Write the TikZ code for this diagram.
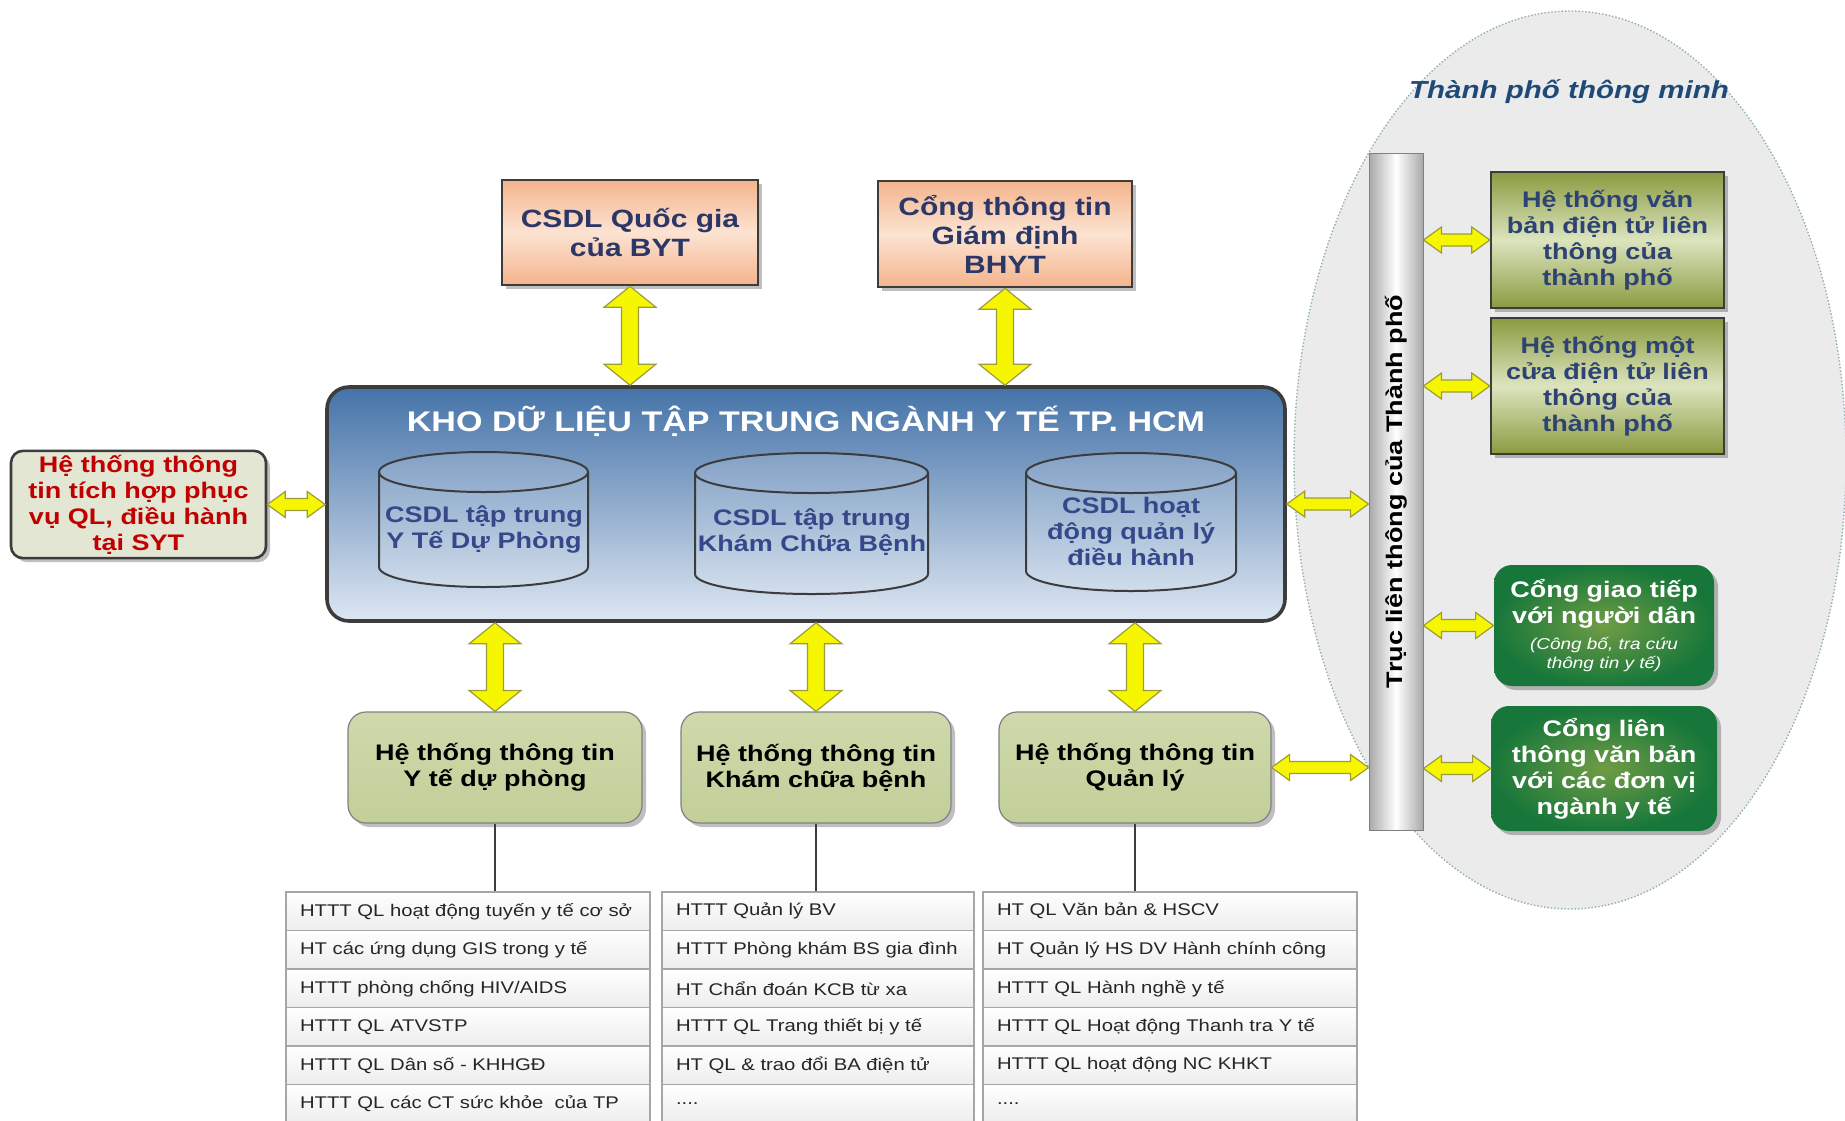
\documentclass[tikz,border=0pt]{standalone}
\usepackage{fontspec}
\setmainfont{Liberation Sans}[FakeStretch=1.2]
\usetikzlibrary{calc,shadows}
\definecolor{khotop}{HTML}{4472A8}
\definecolor{khobot}{HTML}{DDE7F2}
\definecolor{darkline}{HTML}{3C3C3C}
\definecolor{peachA}{HTML}{F4B48C}
\definecolor{peachB}{HTML}{FCE3D2}
\definecolor{navytxt}{HTML}{2B3767}
\definecolor{cyltxt}{HTML}{34488A}
\definecolor{sytfill}{HTML}{E3E6D3}
\definecolor{sytred}{HTML}{C00000}
\definecolor{oliveL}{HTML}{C2CF98}
\definecolor{oliveLt}{HTML}{CFD9AC}
\definecolor{oliveD}{HTML}{8A9B40}
\definecolor{oliveM}{HTML}{DCE4BE}
\definecolor{gdark}{HTML}{17773A}
\definecolor{glight}{HTML}{6F9C45}
\definecolor{ellfill}{HTML}{EBEBEB}
\definecolor{elldot}{HTML}{8FAFB0}
\definecolor{yel}{HTML}{F6F600}
\definecolor{yelline}{HTML}{9C9C3A}
\definecolor{rowline}{HTML}{A6A6A6}
\definecolor{rowbot}{HTML}{EDEDED}
\definecolor{rowtext}{HTML}{262626}
\definecolor{trucgray}{HTML}{A9A9A9}
\definecolor{titleblue}{HTML}{1F4A78}
\definecolor{r1txt}{HTML}{2E4374}
\tikzset{
  shadowed/.style={drop shadow={shadow xshift=2pt,shadow yshift=-2pt,opacity=0.25,fill=black}},
  bfbox/.style={align=center,inner sep=2pt,font=\fontsize{11.25pt}{13pt}\selectfont\bfseries},
  peach/.style={bfbox,draw=darkline,line width=1.3pt,top color=peachA,bottom color=peachA,middle color=peachB,
     text=navytxt,font=\fontsize{12.5pt}{14.5pt}\selectfont\bfseries,shadowed},
  khobox/.style={draw=darkline,line width=1.8pt,rounded corners=11pt,top color=khotop,bottom color=khobot},
  khotitle/.style={text=white,font=\fontsize{14.2pt}{16pt}\selectfont\bfseries},
  cyl/.style={draw=darkline,line width=1pt,fill=white,fill opacity=0.14},
  cylline/.style={draw=darkline,line width=1pt},
  cyltext/.style={bfbox,text=cyltxt},
  sytbox/.style={bfbox,draw=darkline,line width=1.3pt,rounded corners=6pt,fill=sytfill,text=sytred,shadowed},
  olivebox/.style={bfbox,draw=gray,line width=0.6pt,rounded corners=9pt,top color=oliveLt,bottom color=oliveL,text=black,shadowed},
  rolive/.style={bfbox,draw=darkline,line width=1.2pt,top color=oliveD,bottom color=oliveD,middle color=oliveM,text=r1txt,shadowed},
  gbox/.style={bfbox,rounded corners=9pt,inner color=glight,outer color=gdark,text=white,shadowed},
  trucbar/.style={draw=gray,line width=0.5pt,left color=trucgray,right color=trucgray,middle color=white,
     font=\fontsize{11.25pt}{13pt}\selectfont\bfseries},
  tabrow/.style={draw=rowline,line width=0.6pt,top color=white,bottom color=rowbot,minimum height=19.25pt,
     inner xsep=7pt,inner ysep=0pt,align=left,font=\fontsize{8.45pt}{10pt}\selectfont,text=rowtext},
  conn/.style={draw=darkline,line width=1.3pt},
  yarrow/.style={fill=yel,draw=yelline,line width=0.6pt,line join=miter},
  citytitle/.style={text=titleblue,font=\fontsize{12.3pt}{14pt}\selectfont\bfseries\itshape},
  ellstyle/.style={fill=ellfill,draw=elldot,densely dotted,line width=0.7pt}
}
\newcommand\varrow[2]{%
  \draw[yarrow] let \p1=(#1), \p2=(#2) in
   (\x1,\y1) -- (\x1+13pt,\y1-10.5pt) -- (\x1+4.25pt,\y1-10.5pt) -- (\x1+4.25pt,\y2+10.5pt)
   -- (\x1+13pt,\y2+10.5pt) -- (\x1,\y2) -- (\x1-13pt,\y2+10.5pt) -- (\x1-4.25pt,\y2+10.5pt)
   -- (\x1-4.25pt,\y1-10.5pt) -- (\x1-13pt,\y1-10.5pt) -- cycle;}
\newcommand\harrow[2]{%
  \draw[yarrow] let \p1=(#1), \p2=(#2) in
   (\x1,\y1) -- (\x1+9pt,\y1+6.5pt) -- (\x1+9pt,\y1+3pt) -- (\x2-9pt,\y1+3pt)
   -- (\x2-9pt,\y1+6.5pt) -- (\x2,\y1) -- (\x2-9pt,\y1-6.5pt) -- (\x2-9pt,\y1-3pt)
   -- (\x1+9pt,\y1-3pt) -- (\x1+9pt,\y1-6.5pt) -- cycle;}
\newcommand\dbcyl[4]{%
  \filldraw[cyl] (#1-#4,#2+20) -- (#1-#4,#3-20)
    arc[start angle=180,end angle=360,x radius={#4*0.5pt},y radius=10pt]
    -- (#1+#4,#2+20)
    arc[start angle=0,end angle=180,x radius={#4*0.5pt},y radius=10pt] -- cycle;
  \draw[cylline] (#1-#4,#2+20) arc[start angle=180,end angle=360,x radius={#4*0.5pt},y radius=10pt];}
\begin{document}
\begin{tikzpicture}[x=0.5pt,y=-0.5pt]
\useasboundingbox (0,0) rectangle (1845,1120);
\fill[white] (0,0) rectangle (1845,1120);

% smart city area
\draw[ellstyle] (1570,460) ellipse [x radius=138pt, y radius=224.5pt];
\node[citytitle] (city) at (1569,92) {Thành phố thông minh};

% top boxes
\node[peach,minimum width=128pt,minimum height=52.5pt] (qg) at (630,232.5) {CSDL Quốc gia\\của BYT};
\node[peach,minimum width=127pt,minimum height=53pt] (bhyt) at (1005,234) {Cổng thông tin\\Giám định\\BHYT};

% central warehouse
\node[khobox,minimum width=479pt,minimum height=117pt] (kho) at (806,504) {};
\node[khotitle] (khot) at (806,421) {KHO DỮ LIỆU TẬP TRUNG NGÀNH Y TẾ TP. HCM};
\dbcyl{483.5}{452}{587}{104.5}
\dbcyl{811.5}{453}{594}{116.5}
\dbcyl{1131}{453}{591}{105}
\node[cyltext] (c1) at (484,529) {CSDL tập trung\\Y Tế Dự Phòng};
\node[cyltext] (c2) at (812,532) {CSDL tập trung\\Khám Chữa Bệnh};
\node[cyltext] (c3) at (1131,531) {CSDL hoạt\\động quản lý\\điều hành};

% left box
\node[sytbox,minimum width=127.5pt,minimum height=52.5pt] (syt) at (138.5,504.5)
  {Hệ thống thông\\tin tích hợp phục\\vụ QL, điều hành\\tại SYT};

% bottom systems
\node[olivebox,minimum width=147pt,minimum height=55.5pt] (b1) at (495,767.5) {Hệ thống thông tin\\Y tế dự phòng};
\node[olivebox,minimum width=135pt,minimum height=55.5pt] (b2) at (816,767.5) {Hệ thống thông tin\\Khám chữa bệnh};
\node[olivebox,minimum width=136pt,minimum height=55.5pt] (b3) at (1135,767.5) {Hệ thống thông tin\\Quản lý};

% tables
\begin{scope}[every node/.append style={tabrow,text width=168pt}]
\node (t1r1) at (468,911.25) {HTTT QL hoạt động tuyến y tế cơ sở};
\node (t1r2) at (468,949.75) {HT các ứng dụng GIS trong y tế};
\node (t1r3) at (468,988.25) {HTTT phòng chống HIV/AIDS};
\node (t1r4) at (468,1026.75) {HTTT QL ATVSTP};
\node (t1r5) at (468,1065.25) {HTTT QL Dân số - KHHGĐ};
\node (t1r6) at (468,1103.75) {HTTT QL các CT sức khỏe\ \ của TP};
\end{scope}
\begin{scope}[every node/.append style={tabrow,text width=142pt}]
\node (t2r1) at (818,911.25) {HTTT Quản lý BV};
\node (t2r2) at (818,949.75) {HTTT Phòng khám BS gia đình};
\node (t2r3) at (818,988.25) {HT Chẩn đoán KCB từ xa};
\node (t2r4) at (818,1026.75) {HTTT QL Trang thiết bị y tế};
\node (t2r5) at (818,1065.25) {HT QL \& trao đổi BA điện tử};
\node (t2r6) at (818,1103.75) {....};
\end{scope}
\begin{scope}[every node/.append style={tabrow,text width=173pt}]
\node (t3r1) at (1170,911.25) {HT QL Văn bản \& HSCV};
\node (t3r2) at (1170,949.75) {HT Quản lý HS DV Hành chính công};
\node (t3r3) at (1170,988.25) {HTTT QL Hành nghề y tế};
\node (t3r4) at (1170,1026.75) {HTTT QL Hoạt động Thanh tra Y tế};
\node (t3r5) at (1170,1065.25) {HTTT QL hoạt động NC KHKT};
\node (t3r6) at (1170,1103.75) {....};
\end{scope}

\draw[conn] (b1.south) -- (b1.south |- t1r1.north);
\draw[conn] (b2.south) -- (b2.south |- t2r1.north);
\draw[conn] (b3.south) -- (b3.south |- t3r1.north);

% city axis
\node[trucbar,minimum width=27pt,minimum height=338.5pt] (truc) at (1396,491.5) {\rotatebox{90}{Trục liên thông của Thành phố}};

% city systems
\node[rolive,minimum width=116.5pt,minimum height=68pt] (r1) at (1607.5,240) {Hệ thống văn\\bản điện tử liên\\thông của\\thành phố};
\node[rolive,minimum width=116.5pt,minimum height=68pt] (r2) at (1607.5,386) {Hệ thống một\\cửa điện tử liên\\thông của\\thành phố};
\node[gbox,minimum width=110pt,minimum height=60.5pt] (g1) at (1604,625.5)
  {Cổng giao tiếp\\với người dân\\{\fontsize{7.9pt}{9pt}\selectfont\mdseries\itshape (Công bố, tra cứu}\\[-3.5pt]{\fontsize{7.9pt}{9pt}\selectfont\mdseries\itshape thông tin y tế)}};
\node[gbox,minimum width=113pt,minimum height=62.5pt] (g2) at (1604,768.5) {Cổng liên\\thông văn bản\\với các đơn vị\\ngành y tế};

% yellow connectors
\varrow{qg.south}{qg.south |- kho.north}
\varrow{bhyt.south}{bhyt.south |- kho.north}
\varrow{b1.north |- kho.south}{b1.north}
\varrow{b2.north |- kho.south}{b2.north}
\varrow{b3.north |- kho.south}{b3.north}
\harrow{syt.east}{kho.west |- syt.east}
\harrow{kho.east}{truc.west |- kho.east}
\harrow{b3.east}{truc.west |- b3.east}
\harrow{truc.east |- r1.west}{r1.west}
\harrow{truc.east |- r2.west}{r2.west}
\harrow{truc.east |- g1.west}{g1.west}
\harrow{truc.east |- g2.west}{g2.west}
\end{tikzpicture}
\end{document}
